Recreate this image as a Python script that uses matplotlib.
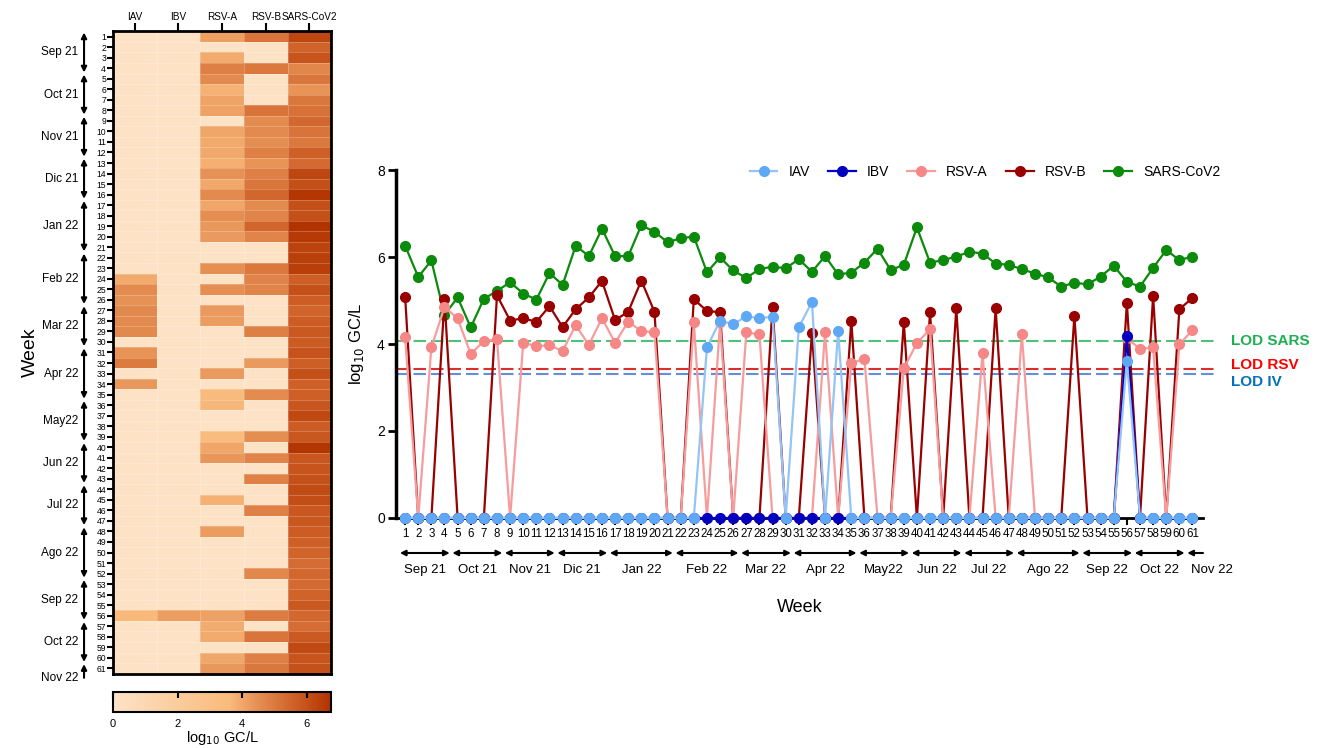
import matplotlib
matplotlib.use('Agg')
import numpy as np
import matplotlib.pyplot as plt
from matplotlib.colors import LinearSegmentedColormap
import matplotlib.transforms as mtransforms

plt.rcParams['font.family'] = ['Liberation Sans', 'DejaVu Sans']

# ---- data (log10 GC/L per week) ----
weeks = list(range(1, 62))
series_names = ['IAV', 'IBV', 'RSV-A', 'RSV-B', 'SARS-CoV2']

iav = [0, 0, 0, 0, 0, 0, 0, 0, 0, 0,
       0, 0, 0, 0, 0, 0, 0, 0, 0, 0,
       0, 0, 0, 3.92, 4.54, 4.45, 4.64, 4.59, 4.63, 0,
       4.38, 4.97, 0, 4.30, 0, 0, 0, 0, 0, 0,
       0, 0, 0, 0, 0, 0, 0, 0, 0, 0,
       0, 0, 0, 0, 0, 3.62, 0, 0, 0, 0, 0]
ibv = [0] * 55 + [4.19] + [0] * 5
rsv_a = [4.15, 0, 3.92, 4.85, 4.59, 3.77, 4.07, 4.11, 0, 4.03,
         3.95, 3.97, 3.84, 4.43, 3.98, 4.59, 4.03, 4.51, 4.30, 4.27,
         0, 0, 4.50, 0, 4.50, 0, 4.27, 4.22, 0, 0,
         0, 0, 4.27, 0, 3.56, 3.66, 0, 0, 3.44, 4.02,
         4.34, 0, 0, 0, 3.79, 0, 0, 4.22, 0, 0,
         0, 0, 0, 0, 0, 4.13, 3.89, 3.92, 0, 3.99, 4.32]
rsv_b = [5.09, 0, 0, 5.03, 0, 0, 0, 5.12, 4.54, 4.59,
         4.51, 4.87, 4.39, 4.80, 5.07, 5.45, 4.55, 4.74, 5.46, 4.74,
         0, 0, 5.03, 4.76, 4.73, 0, 0, 0, 4.86, 0,
         0, 4.25, 0, 0, 4.54, 0, 0, 0, 4.51, 0,
         4.73, 0, 4.82, 0, 0, 4.82, 0, 0, 0, 0,
         0, 4.65, 0, 0, 0, 4.95, 0, 5.11, 0, 4.80, 5.06]
sars = [6.26, 5.54, 5.92, 4.67, 5.07, 4.38, 5.04, 5.22, 5.42, 5.16,
        5.02, 5.63, 5.36, 6.26, 6.02, 6.65, 6.02, 6.02, 6.73, 6.58,
        6.34, 6.43, 6.47, 5.65, 5.99, 5.69, 5.52, 5.72, 5.78, 5.74,
        5.95, 5.66, 6.02, 5.60, 5.64, 5.87, 6.19, 5.70, 5.82, 6.68,
        5.87, 5.93, 6.01, 6.12, 6.08, 5.85, 5.82, 5.72, 5.62, 5.53,
        5.32, 5.41, 5.37, 5.55, 5.80, 5.43, 5.32, 5.75, 6.16, 5.93, 6.01]

lod_sars = 4.07
lod_rsv = 3.43
lod_iv = 3.31

month_labels = ['Sep 21', 'Oct 21', 'Nov 21', 'Dic 21', 'Jan 22', 'Feb 22', 'Mar 22',
                'Apr 22', 'May22', 'Jun 22', 'Jul 22', 'Ago 22', 'Sep 22', 'Oct 22', 'Nov 22']
month_first_week = [1, 5, 9, 13, 17, 22, 27, 31, 36, 40, 44, 48, 53, 57, 61]

# ---- styles ----
line_colors = {'IAV': '#94C4F7', 'IBV': '#0000C8', 'RSV-A': '#F79C9C',
               'RSV-B': '#990000', 'SARS-CoV2': '#0B8A0B'}
marker_colors = {'IAV': '#5EA8F5', 'IBV': '#0000C0', 'RSV-A': '#F58787',
                 'RSV-B': '#990000', 'SARS-CoV2': '#0B8A0B'}

cmap = LinearSegmentedColormap.from_list(
    'peach', [(0.0, '#FDE2C6'), (3.6 / 6.75, '#F9BA7C'), (4.6 / 6.75, '#E38A4E'),
              (5.6 / 6.75, '#CF6128'), (1.0, '#B23300')])
VMAX = 6.75


def month_spans():
    spans = []
    for i, first in enumerate(month_first_week):
        start = first - 0.4
        end = month_first_week[i + 1] - 0.6 if i + 1 < len(month_first_week) else 61.8
        spans.append((start, end))
    return spans


fig = plt.figure(figsize=(13.3, 7.48), dpi=100, facecolor='white')

# ================= heatmap =================
axh = fig.add_axes([0.085, 0.0995, 0.164, 0.8585])
mat = np.column_stack([iav, ibv, rsv_a, rsv_b, sars])
mesh = axh.pcolormesh(np.arange(6) - 0.5, np.arange(62) + 0.5, mat, cmap=cmap,
                      vmin=0, vmax=VMAX, edgecolors=(1, 1, 1, 0.22), linewidth=0.4)
axh.set_xlim(-0.5, 4.5)
axh.set_ylim(61.5, 0.5)
axh.xaxis.tick_top()
axh.set_xticks(range(5))
axh.set_xticklabels(series_names, fontsize=7.2)
axh.set_yticks(weeks)
axh.set_yticklabels(weeks, fontsize=6.2)
axh.tick_params(axis='x', length=6, width=1.5, pad=1)
axh.tick_params(axis='y', length=4, width=1.5, pad=1)
for s in axh.spines.values():
    s.set_linewidth(2)

trans_h = mtransforms.blended_transform_factory(axh.transAxes, axh.transData)
for label, (a, b) in zip(month_labels, month_spans()):
    if label == 'Nov 22':
        axh.annotate('', xy=(-0.133, a), xytext=(-0.133, b + 0.1), xycoords=trans_h,
                     textcoords=trans_h,
                     arrowprops=dict(arrowstyle='-|>', lw=1.5, color='black',
                                     mutation_scale=8, shrinkA=0, shrinkB=0))
        ymid = b + 0.1
    else:
        axh.annotate('', xy=(-0.133, b), xytext=(-0.133, a), xycoords=trans_h,
                     textcoords=trans_h,
                     arrowprops=dict(arrowstyle='<|-|>', lw=1.5, color='black',
                                     mutation_scale=8, shrinkA=0, shrinkB=0))
        ymid = (a + b) / 2
    axh.text(-0.16, ymid, label, transform=trans_h, ha='right', va='center', fontsize=8.5)

axh.text(-0.38, 0.5, 'Week', transform=axh.transAxes, rotation=90,
         ha='center', va='center', fontsize=14)

# colorbar
cax = fig.add_axes([0.085, 0.048, 0.164, 0.027])
cb = fig.colorbar(mesh, cax=cax, orientation='horizontal', ticks=[0, 2, 4, 6])
cb.outline.set_linewidth(1.5)
cax.tick_params(axis='x', direction='in', top=True, bottom=False, labelbottom=True,
                length=4, width=1.5, labelsize=8, pad=5)
cax.set_xlabel('log$_{10}$ GC/L', fontsize=10.5, labelpad=0)

# ================= line chart =================
axl = fig.add_axes([0.2977, 0.3075, 0.6068, 0.4652])
order = [('SARS-CoV2', sars, 2), ('RSV-B', rsv_b, 3), ('RSV-A', rsv_a, 4),
         ('IBV', ibv, 5), ('IAV', iav, 6)]
handles = {}
for name, vals, z in order:
    ln, = axl.plot(weeks, vals, '-o', color=line_colors[name], lw=1.6,
                   markersize=7, markerfacecolor=marker_colors[name],
                   markeredgecolor=marker_colors[name], zorder=z, clip_on=False,
                   label=name)
    handles[name] = ln

axl.set_xlim(0.3, 61.8)
axl.set_ylim(0, 8)
axl.set_yticks([0, 2, 4, 6, 8])
axl.set_xticks(weeks)
axl.set_xticklabels(weeks, fontsize=8.3)
axl.tick_params(axis='y', length=6, width=2, labelsize=10, pad=2)
axl.tick_params(axis='x', length=5, width=1.5, pad=2)
axl.spines['top'].set_visible(False)
axl.spines['right'].set_visible(False)
axl.spines['left'].set_linewidth(2.5)
axl.spines['bottom'].set_linewidth(2)
axl.set_ylabel('log$_{10}$ GC/L', fontsize=12, labelpad=8)

# LOD lines
lods = [(lod_sars, '#4CC27A', 'LOD SARS', '#1DB050', 0.0),
        (lod_rsv, '#D9302E', 'LOD RSV', '#FF0000', 0.09),
        (lod_iv, '#5F90E0', 'LOD IV', '#0070C0', -0.18)]
for val, lc, txt, tc, dy in lods:
    axl.plot([0.3, 62.85], [val, val], color=lc, lw=1.5, dashes=(6, 2.4),
             zorder=1, clip_on=False)
    axl.text(63.9, val + dy, txt, color=tc, fontsize=11, fontweight='bold',
             ha='left', va='center')

# month arrows under x axis
trans_l = mtransforms.blended_transform_factory(axl.transData, axl.transAxes)
for label, (a, b) in zip(month_labels, month_spans()):
    if label == 'Nov 22':
        axl.annotate('', xy=(a, -0.1006), xytext=(b, -0.1006), xycoords=trans_l,
                     textcoords=trans_l, annotation_clip=False,
                     arrowprops=dict(arrowstyle='-|>', lw=1.5, color='black',
                                     mutation_scale=8, shrinkA=0, shrinkB=0))
        axl.text(a + 0.3, -0.149, label, transform=trans_l, ha='left', va='center',
                 fontsize=9.5)
    else:
        axl.annotate('', xy=(b, -0.1006), xytext=(a, -0.1006), xycoords=trans_l,
                     textcoords=trans_l, annotation_clip=False,
                     arrowprops=dict(arrowstyle='<|-|>', lw=1.5, color='black',
                                     mutation_scale=8, shrinkA=0, shrinkB=0))
        axl.text((a + b) / 2, -0.149, label, transform=trans_l, ha='center',
                 va='center', fontsize=9.5)

axl.text(0.5, -0.256, 'Week', transform=axl.transAxes, ha='center', va='center',
         fontsize=13)

axl.legend([handles[n] for n in series_names], series_names, loc='center',
           bbox_to_anchor=(0.73, 0.995), ncol=5, frameon=False, fontsize=10,
           handlelength=2.0, columnspacing=1.3, handletextpad=0.8)

fig.savefig('out.png', dpi=100, facecolor='white')
